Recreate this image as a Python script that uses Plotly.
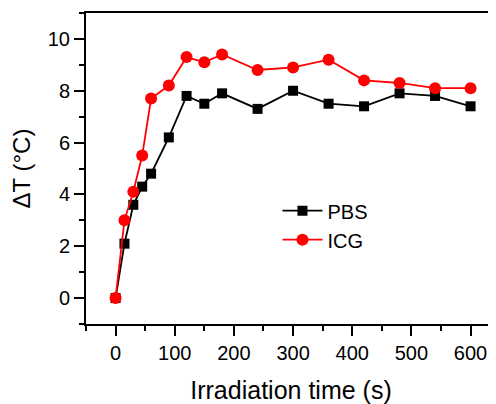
import plotly.graph_objects as go

time_s = [0, 15, 30, 45, 60, 90, 120, 150, 180, 240, 300, 360, 420, 480, 540, 600]
pbs = [0, 2.1, 3.6, 4.3, 4.8, 6.2, 7.8, 7.5, 7.9, 7.3, 8.0, 7.5, 7.4, 7.9, 7.8, 7.4]
icg = [0, 3.0, 4.1, 5.5, 7.7, 8.2, 9.3, 9.1, 9.4, 8.8, 8.9, 9.2, 8.4, 8.3, 8.1, 8.1]

font_family = "Liberation Sans, Arial, sans-serif"

fig = go.Figure()
fig.add_trace(go.Scatter(
    x=time_s, y=pbs, name="PBS", mode="lines+markers",
    line=dict(color="black", width=1.8),
    marker=dict(symbol="square", size=10, color="black"),
))
fig.add_trace(go.Scatter(
    x=time_s, y=icg, name="ICG", mode="lines+markers",
    line=dict(color="#ff0000", width=1.8),
    marker=dict(symbol="circle", size=12, color="#ff0000"),
))

# page body has an 8px margin, so the figure is 8px smaller and shifted
fig.update_layout(
    width=488, height=396,
    margin=dict(l=78, r=0, t=5, b=80),
    plot_bgcolor="white", paper_bgcolor="white",
    font=dict(family=font_family, size=20, color="black"),
    showlegend=True,
    legend=dict(
        x=0.467, y=0.427, xanchor="left", yanchor="top",
        bgcolor="rgba(0,0,0,0)", font=dict(size=20),
        itemwidth=40, tracegroupgap=0,
    ),
)

fig.update_xaxes(
    range=[-50, 643], automargin=False,
    showgrid=False, zeroline=False,
    showline=True, linecolor="black", linewidth=2, mirror=True,
    ticks="outside", ticklen=10, tickwidth=1.5, tickcolor="black",
    tick0=0, dtick=100,
    minor=dict(ticks="outside", ticklen=5, tickwidth=1.5, tickcolor="black", dtick=50, tick0=0, showgrid=False),
    tickfont=dict(size=20),
    title=dict(text="Irradiation time (s)", font=dict(size=25), standoff=18),
)
fig.update_yaxes(
    range=[-1, 11], automargin=False,
    showgrid=False, zeroline=False,
    showline=True, linecolor="black", linewidth=2, mirror=False,
    ticks="outside", ticklen=10, tickwidth=1.5, tickcolor="black",
    tick0=0, dtick=2,
    minor=dict(ticks="outside", ticklen=5, tickwidth=1.5, tickcolor="black", dtick=1, tick0=0, showgrid=False),
    tickfont=dict(size=20),
    title=dict(text="ΔT (°C)", font=dict(size=24), standoff=12),
)

fig.write_html("out.html")
